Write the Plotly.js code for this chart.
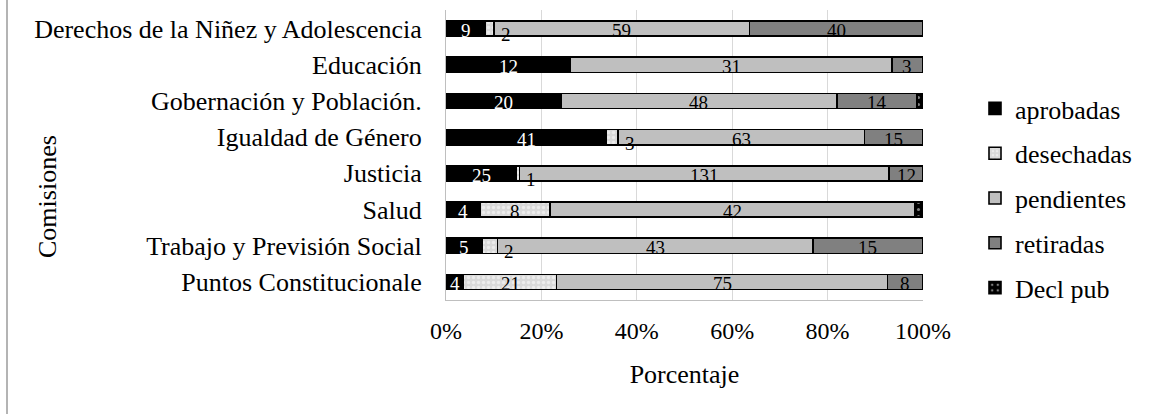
<!DOCTYPE html>
<html><head><meta charset="utf-8">
<script src="https://cdn.plot.ly/plotly-3.0.1.min.js"></script>
<style>
html,body{margin:0;padding:0;background:#fff;}
#chart{position:absolute;left:0;top:0;width:1152px;height:414px;}
#frame{position:absolute;left:6px;top:0;width:2px;height:414px;background:#b4b4b4;}
</style>
</head><body>
<div id="chart"></div><div id="frame"></div>
<script>
const categories = ['Derechos de la Niñez y Adolescencia','Educación','Gobernación y Población.','Igualdad de Género','Justicia','Salud','Trabajo y Previsión Social','Puntos Constitucionale'];
const aprobadas  = [9, 12, 20, 41, 25, 4, 5, 4];
const desechadas = [2, 0, 0, 3, 1, 8, 2, 21];
const pendientes = [59, 31, 48, 63, 131, 42, 43, 75];
const retiradas  = [40, 3, 14, 15, 12, 0, 15, 8];
const declPub    = [0, 0, 1, 0, 0, 1, 0, 0];
const seriesNames = ['aprobadas','desechadas','pendientes','retiradas','Decl pub'];
const tickVals = [0, 20, 40, 60, 80, 100];
const tickText = ['0%','20%','40%','60%','80%','100%'];

const FONT = '"Liberation Serif", "Times New Roman", serif';
const series = [aprobadas, desechadas, pendientes, retiradas, declPub];
const markers = [
  {color:'#000000'},
  {color:'#d9d9d9', pattern:{shape:'.', fgcolor:'#ffffff', fillmode:'overlay', size:5, solidity:0.35}},
  {color:'#bfbfbf'},
  {color:'#808080'},
  {color:'#000000', pattern:{shape:'.', fgcolor:'#ffffff', fillmode:'overlay', size:7, solidity:0.15}}
];
const labelColors = ['#ffffff','#000000','#000000','#000000', null];

const traces = series.map((arr,k)=>{
  const m = Object.assign({}, markers[k], {line:{color:'#000000', width:1.6}});
  return {type:'bar', orientation:'h', name:seriesNames[k], legendgroup:'g'+k,
    y:categories, x:arr, marker:m, hoverinfo:'name+x'};
});

const annotations = [];
categories.forEach((cat,i)=>{
  const total = series.reduce((s,arr)=>s+arr[i],0);
  let cum = 0;
  series.forEach((arr,k)=>{
    const v = arr[i];
    const pct = v/total*100;
    if (v>0 && labelColors[k]) {
      const small = pct < 3.5;
      annotations.push({x: small ? cum+pct : cum+pct/2, y:cat, xref:'x', yref:'y',
        text:String(v), showarrow:false, xanchor: small?'left':'center',
        xshift: small?5:0, yshift: small?-6:-2,
        font:{family:FONT, size:19, color:labelColors[k]}});
    }
    cum += pct;
  });
});
annotations.push({text:'Comisiones', textangle:-90, xref:'paper', yref:'paper',
  x:(47-446)/477, y:(300-197)/290, showarrow:false, xanchor:'center', yanchor:'middle',
  font:{family:FONT, size:26, color:'#000'}});

const layout = {
  width:1152, height:414,
  margin:{l:446, r:229, t:10, b:114, pad:0},
  paper_bgcolor:'#ffffff', plot_bgcolor:'#ffffff',
  barmode:'stack', barnorm:'percent', bargap:0.58,
  font:{family:FONT, color:'#000'},
  xaxis:{range:[0,100], tickvals:tickVals, ticktext:tickText, showgrid:true,
    gridcolor:'#d9d9d9', gridwidth:1, zeroline:false, showline:true, linecolor:'#bfbfbf',
    linewidth:1, ticks:'', ticklabelstandoff:9, tickfont:{family:FONT, size:24, color:'#000'},
    title:{text:'Porcentaje', font:{family:FONT, size:26, color:'#000'}, standoff:22},
    fixedrange:true},
  yaxis:{autorange:'reversed', showgrid:false, zeroline:false, showline:true,
    linecolor:'#bfbfbf', linewidth:1, ticks:'', ticklabelstandoff:18,
    tickfont:{family:FONT, size:26, color:'#000'}, fixedrange:true},
  legend:{x:(975-446)/477, xanchor:'left', y:(300-85)/290, yanchor:'top',
    traceorder:'grouped', tracegroupgap:8, bgcolor:'rgba(0,0,0,0)',
    font:{family:FONT, size:26, color:'#000'}},
  annotations:annotations,
  showlegend:true
};
Plotly.newPlot('chart', traces, layout, {displayModeBar:false, staticPlot:true});
</script>
</body></html>
